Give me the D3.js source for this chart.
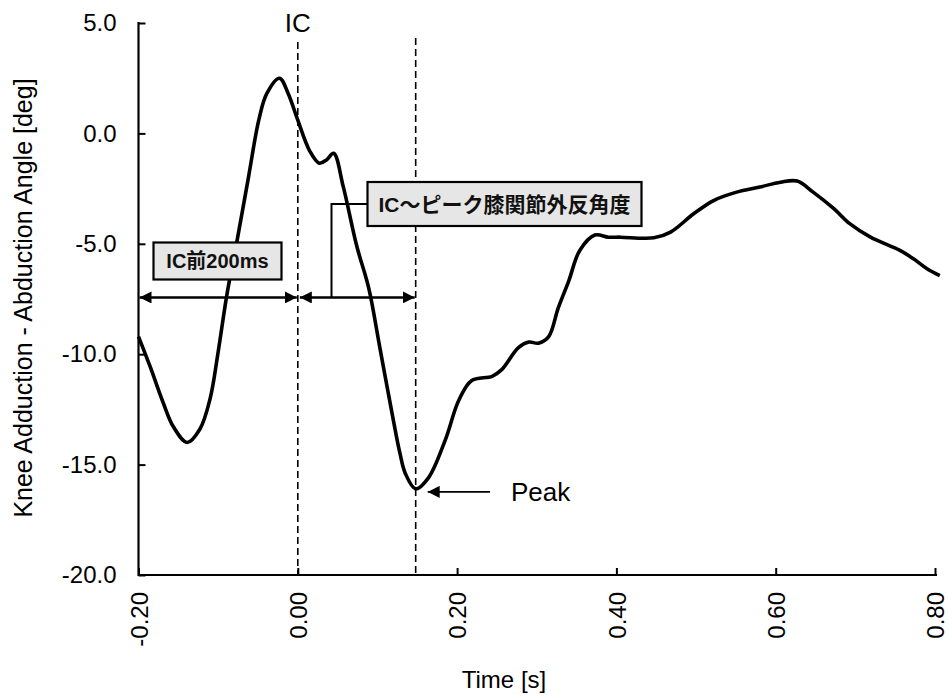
<!DOCTYPE html>
<html>
<head>
<meta charset="utf-8">
<script src="https://cdn.jsdelivr.net/npm/d3@7"></script>
<style>
  body { margin: 0; background: #fff; }
  text { font-family: "Liberation Sans", Arial, "Noto Sans CJK JP", sans-serif; }
</style>
</head>
<body>
<div id="chart"></div>
<script>

// time [s] and knee angle [deg]
let times = [-0.200, -0.185, -0.169, -0.156, -0.139, -0.123, -0.110, -0.100, -0.089, -0.077,
             -0.062, -0.049, -0.039, -0.023, -0.012, -0.001, 0.015, 0.027, 0.036, 0.045,
             0.057, 0.074, 0.089, 0.103, 0.120, 0.128, 0.135, 0.148, 0.164, 0.185,
             0.202, 0.218, 0.244, 0.256, 0.277, 0.290, 0.302, 0.315, 0.327, 0.340,
             0.354, 0.373, 0.390, 0.405, 0.447, 0.468, 0.497, 0.522, 0.551, 0.580,
             0.606, 0.627, 0.647, 0.673, 0.693, 0.719, 0.756, 0.773, 0.790, 0.806];
let angles = [-9.2, -10.6, -12.2, -13.3, -14.0, -13.4, -12.0, -9.9, -7.3, -5.0,
              -2.0, 0.6, 1.8, 2.5, 1.8, 0.7, -0.8, -1.35, -1.2, -0.9,
              -2.4, -5.1, -7.0, -9.7, -13.0, -14.45, -15.4, -16.1, -15.6, -13.9,
              -12.1, -11.2, -11.0, -10.7, -9.7, -9.45, -9.5, -9.2, -7.9, -6.7,
              -5.3, -4.6, -4.7, -4.7, -4.73, -4.47, -3.64, -3.04, -2.66, -2.43,
              -2.21, -2.16, -2.66, -3.41, -4.09, -4.7, -5.3, -5.68, -6.13, -6.44];

let xTicks = [-0.2, 0.0, 0.2, 0.4, 0.6, 0.8];
let xTickLabels = ["-0.20", "0.00", "0.20", "0.40", "0.60", "0.80"];
let yTicks = [-20, -15, -10, -5, 0, 5];
let yTickLabels = ["-20.0", "-15.0", "-10.0", "-5.0", "0.0", "5.0"];

let icTime = 0.0;
let peakTime = 0.148;
let peakAngle = -16.1;
let arrowAngle = -7.43;

let data = times.map((t, i) => ({t: t, v: angles[i]}));

let viz = d3.select("#chart")
              .append("svg")
                .attr("width", 948)
                .attr("height", 695)
;

let x = d3.scaleLinear().domain([-0.2, 0.8]).range([138.5, 935]);
let y = d3.scaleLinear().domain([-20, 5]).range([575, 23]);

// arrow heads
let defs = viz.append("defs");
defs.append("marker")
      .attr("id", "head")
      .attr("viewBox", "0 0 10 10")
      .attr("refX", 10)
      .attr("refY", 5)
      .attr("markerWidth", 12)
      .attr("markerHeight", 12)
      .attr("markerUnits", "userSpaceOnUse")
      .attr("orient", "auto-start-reverse")
    .append("path")
      .attr("d", "M0,0 L10,5 L0,10 Z")
      .attr("fill", "black")
;

// axes
let yAxis = viz.append("g")
    .attr("transform", "translate(" + x(-0.2) + ",0)")
    .call(d3.axisLeft(y).tickValues(yTicks).tickSize(-7).tickPadding(22)
            .tickFormat((d, i) => yTickLabels[i]));

let xAxis = viz.append("g")
    .attr("transform", "translate(0," + y(-20) + ")")
    .call(d3.axisBottom(x).tickValues(xTicks).tickSize(-7)
            .tickFormat((d, i) => xTickLabels[i]));

[xAxis, yAxis].forEach(function(a){
  a.select(".domain").remove();
  a.selectAll(".tick line").attr("stroke-width", 2);
  a.selectAll("text").attr("font-size", 24).attr("fill", "black");
});

viz.append("line")
    .attr("x1", x(-0.2)).attr("x2", x(-0.2))
    .attr("y1", y(5) - 1).attr("y2", y(-20) + 1)
    .attr("stroke", "black").attr("stroke-width", 2.2);
viz.append("line")
    .attr("x1", x(-0.2)).attr("x2", x(0.8) + 2)
    .attr("y1", y(-20)).attr("y2", y(-20))
    .attr("stroke", "black").attr("stroke-width", 2.2);

xAxis.selectAll(".tick text")
    .attr("transform", "rotate(-90)")
    .attr("text-anchor", "end")
    .attr("x", -17)
    .attr("y", 0)
    .attr("dy", "0.36em");

// axis titles
viz.append("text")
    .attr("x", 504)
    .attr("y", 688)
    .attr("text-anchor", "middle")
    .attr("font-size", 24)
    .text("Time [s]");

viz.append("text")
    .attr("transform", "translate(32,298) rotate(-90)")
    .attr("text-anchor", "middle")
    .attr("font-size", 25)
    .text("Knee Adduction - Abduction Angle [deg]");

// dashed IC and peak lines
viz.append("line")
    .attr("x1", x(icTime)).attr("x2", x(icTime))
    .attr("y1", 42).attr("y2", y(-20))
    .attr("stroke", "black").attr("stroke-width", 1.6)
    .attr("stroke-dasharray", "7,4");
viz.append("line")
    .attr("x1", x(peakTime)).attr("x2", x(peakTime))
    .attr("y1", 38).attr("y2", y(-20))
    .attr("stroke", "black").attr("stroke-width", 1.6)
    .attr("stroke-dasharray", "7,4");

viz.append("text")
    .attr("x", x(icTime))
    .attr("y", 32)
    .attr("text-anchor", "middle")
    .attr("font-size", 26)
    .text("IC");

// curve
let line = d3.line()
    .x(d => x(d.t))
    .y(d => y(d.v))
    .curve(d3.curveCatmullRom.alpha(0.5));

viz.append("path")
    .datum(data)
    .attr("d", line)
    .attr("fill", "none")
    .attr("stroke", "black")
    .attr("stroke-width", 3.6)
    .attr("stroke-linejoin", "round");

// double arrows
function dblArrow(x1, x2, yy){
  viz.append("line")
      .attr("x1", x1).attr("x2", x2)
      .attr("y1", yy).attr("y2", yy)
      .attr("stroke", "black").attr("stroke-width", 2.4)
      .attr("marker-start", "url(#head)")
      .attr("marker-end", "url(#head)");
}
dblArrow(x(-0.2) + 1, x(icTime) - 1, y(arrowAngle));
dblArrow(x(icTime) + 2, x(peakTime) - 1, y(arrowAngle));

// label boxes
function labelBox(bx, by, bw, bh, txt, fs){
  viz.append("rect")
      .attr("x", bx).attr("y", by)
      .attr("width", bw).attr("height", bh)
      .attr("fill", "#e6e6e6")
      .attr("stroke", "black")
      .attr("stroke-width", 2.2);
  viz.append("text")
      .attr("x", bx + bw / 2)
      .attr("y", by + bh / 2)
      .attr("dy", "0.36em")
      .attr("text-anchor", "middle")
      .attr("font-size", fs)
      .attr("font-weight", "bold")
      .attr("fill", "#111")
      .text(txt);
}
labelBox(153.5, 242.5, 128, 37, "IC前200ms", 20);

// connector from second arrow up to the box
viz.append("path")
    .attr("d", "M331.5," + y(arrowAngle) + " V204 H367")
    .attr("fill", "none")
    .attr("stroke", "black")
    .attr("stroke-width", 2);
labelBox(367.5, 182, 274, 44, "IC～ピーク膝関節外反角度", 21);

// peak arrow
viz.append("line")
    .attr("x1", 490).attr("x2", x(peakTime) + 12)
    .attr("y1", y(peakAngle) + 3).attr("y2", y(peakAngle) + 3)
    .attr("stroke", "black").attr("stroke-width", 1.8)
    .attr("marker-end", "url(#head)");

viz.append("text")
    .attr("x", 511)
    .attr("y", y(peakAngle) + 12)
    .attr("font-size", 26)
    .text("Peak");

</script>
</body>
</html>
